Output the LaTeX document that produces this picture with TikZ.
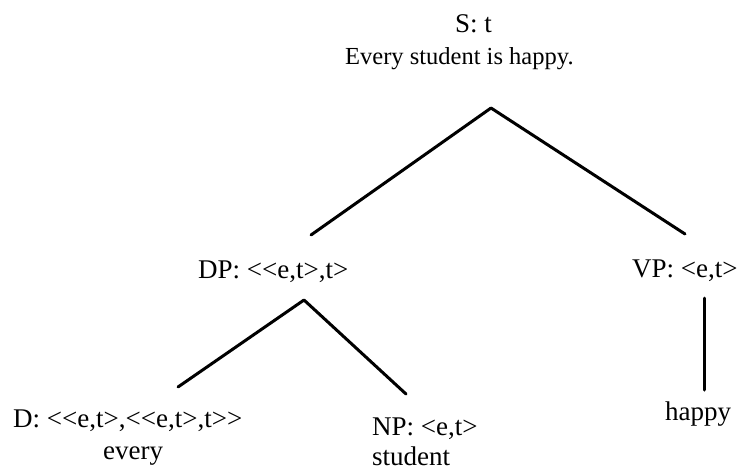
\documentclass[tikz,border=0pt]{standalone}
\usepackage{fontspec}
\setmainfont{Liberation Serif}[Ligatures=TeXOff]
\begin{document}
\begin{tikzpicture}[x=1pt,y=-1pt,
  lbl/.style={inner sep=0pt,anchor=base west,font=\fontsize{27}{30}\selectfont},
  edge/.style={line width=3pt,line cap=round,line join=round}]
\useasboundingbox[fill=white] (0,0) rectangle (743,471);
% labels
\node[lbl] (s) at (455,32) {S: t};
\node[lbl,font=\fontsize{24.5}{28}\selectfont] (sent) at (345,64) {Every student is happy.};
\node[lbl] (dp) at (198,278) {DP: <{}<e,t>,t>};
\node[lbl] (vp) at (632,277) {VP: <e,t>};
\node[lbl] (d) at (13,427) {D: <{}<e,t>,<{}<e,t>,t>{}>};
\node[lbl] (every) at (103,459) {every};
\node[lbl] (np) at (372,435) {NP: <e,t>};
\node[lbl] (student) at (372,465) {student};
\node[lbl] (happy) at (665,420) {happy};
% branch points
\coordinate (sTop) at (491,108);
\coordinate (dpUp) at (311,235);
\coordinate (vpUp) at (685,234);
\coordinate (dpDown) at (304,300);
\coordinate (dUp) at (178,387);
\coordinate (npUp) at (406,394);
\coordinate (vpDown) at (704,298);
\coordinate (happyUp) at (704,390);
% edges
\draw[edge] (dpUp) -- (sTop) -- (vpUp);
\draw[edge] (dUp) -- (dpDown) -- (npUp);
\draw[edge] (vpDown) -- (happyUp);
\end{tikzpicture}
\end{document}
